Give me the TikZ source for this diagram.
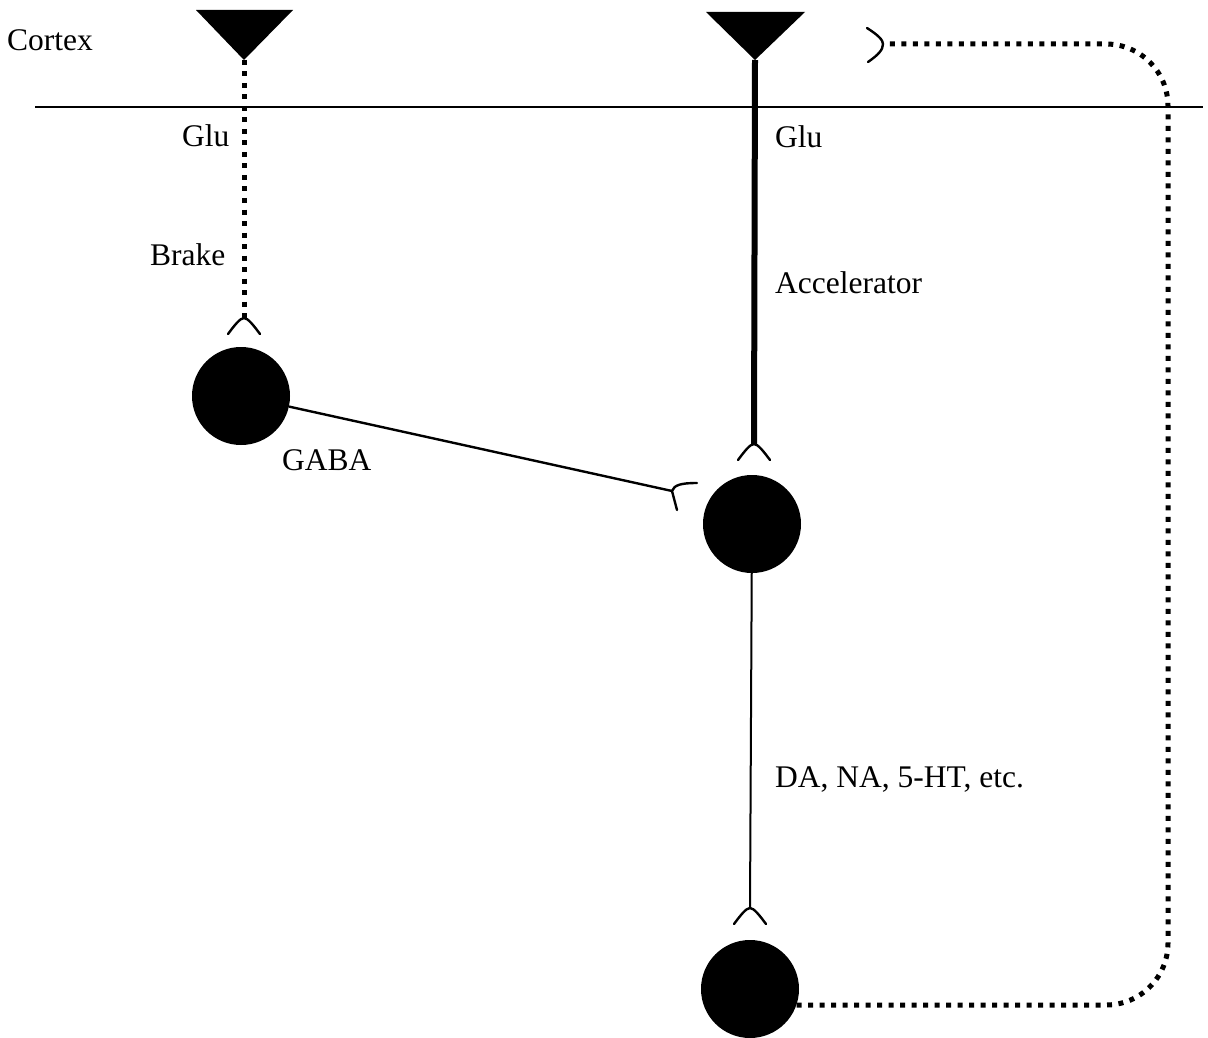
\documentclass[tikz,border=0pt]{standalone}
\usepackage{fontspec}
\setmainfont{Liberation Serif}
\begin{document}
\begin{tikzpicture}[x=1pt,y=-1pt,
  lbl/.style={anchor=base west,inner sep=0pt,font=\fontsize{31.5}{36}\selectfont},
  cell/.style={circle,fill=black,minimum size=98pt,inner sep=0pt},
  soma/.style={fill=black},
  dotline/.style={line width=5pt,dash pattern=on 5pt off 6.5pt},
  thickline/.style={line width=6pt},
  thinline/.style={line width=2pt},
  recline/.style={line width=2.4pt,line cap=round},
  pics/cup/.style={code={\draw[recline] (-16,16) .. controls (-10,8) and (-4,0) .. (0,0) .. controls (4,0) and (10,8) .. (16,16);}}
]
\useasboundingbox (0,0) rectangle (1208,1038);

% cortical boundary
\draw[line width=2pt] (35,107) -- (1203,107);
\node[lbl] (cortex) at (7,51) {Cortex};

% pyramidal cells in cortex
\fill[soma] (196,10) -- (293,10) -- (244,60) -- cycle;
\coordinate (apexA) at (244,60);
\fill[soma] (706,12) -- (805,12) -- (755,60) -- cycle;
\coordinate (apexB) at (755,60);

% subcortical cells
\node[cell] (n1) at (241,396) {};
\node[cell] (n2) at (752,524) {};
\node[cell] (n3) at (750,989) {};

% receptor tips
\coordinate (recA) at (244,318);
\coordinate (recB) at (754,444);
\coordinate (recC) at (672,491);
\coordinate (recD) at (750,908);
\coordinate (recE) at (883,44);
\coordinate (loop) at (1168,500);

% brake pathway
\draw[dotline] (apexA) -- (recA);
\pic at (recA) {cup};
\node[lbl] (glu1) at (182,147) {Glu};
\node[lbl] (brake) at (150,265) {Brake};

% accelerator pathway
\draw[thickline] (apexB) -- (recB);
\pic at (recB) {cup};
\node[lbl] (glu2) at (775,148) {Glu};
\node[lbl] (accel) at (775,293) {Accelerator};

% GABA projection
\draw[line width=2.4pt] (n1) -- (recC);
\draw[recline] (697,483) .. controls (681,483) and (674,485) .. (recC) -- (677,510);
\node[lbl] (gaba) at (282,470) {GABA};

% monoamine projection
\draw[thinline] (n2) -- (recD);
\pic at (recD) {cup};
\node[lbl] (mono) at (775,787) {DA, NA, 5-HT, etc.};

% feedback loop to cortex
\draw[dotline,rounded corners=62pt] (n3.-19) -- (n3.-19 -| loop) -- (recE -| loop) -- (recE);
\draw[recline] (867,28) .. controls (878,35) and (883,40) .. (recE) .. controls (883,50) and (878,55) .. (868,62);
\end{tikzpicture}
\end{document}
